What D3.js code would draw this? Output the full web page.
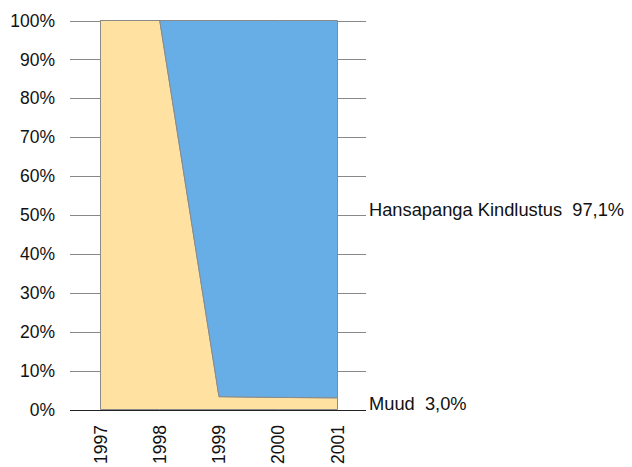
<!DOCTYPE html>
<html><head><meta charset="utf-8">
<script src="https://cdn.jsdelivr.net/npm/d3@7"></script>
<style>body{margin:0;background:#fff}svg{display:block}text{font-family:"Liberation Sans",Arial,sans-serif;fill:#111;white-space:pre}</style>
</head><body><svg id="c" width="632" height="467"></svg>
<script>
const years = ["1997","1998","1999","2000","2001"];
const muud = [100, 100, 3.3, 3.1, 3.0];
const hansapanga = [0, 0, 96.7, 96.9, 97.1];
const seriesNames = ["Muud", "Hansapanga Kindlustus"];
const seriesLabels = ["Muud  3,0%", "Hansapanga Kindlustus  97,1%"];
const seriesColors = ["#FFE1A1", "#67AEE6"];
const yTicks = [0,10,20,30,40,50,60,70,80,90,100];

const svg = d3.select("#c");
const x = d3.scalePoint().domain(years).range([100.5, 337.5]);
const y = d3.scaleLinear().domain([0,100]).range([409.5, 20.5]);

const rows = years.map((yr,i)=>({year:yr, Muud:muud[i], "Hansapanga Kindlustus":hansapanga[i]}));
const total = rows.map(r=>r.Muud + r["Hansapanga Kindlustus"]);
const norm = rows.map((r,i)=>({year:r.year, Muud:r.Muud/total[i]*100, "Hansapanga Kindlustus":r["Hansapanga Kindlustus"]/total[i]*100}));
const stack = d3.stack().keys(seriesNames)(norm);

svg.append("g").selectAll("line").data(yTicks).join("line")
  .attr("x1",70).attr("x2",366)
  .attr("y1",d=>Math.round(y(d))+0.5).attr("y2",d=>Math.round(y(d))+0.5)
  .attr("stroke",d=>d===0?"#222":"#888").attr("stroke-width",1);

const area = d3.area().x(d=>x(d.data.year)).y0(d=>y(d[0])).y1(d=>y(d[1]));
svg.append("g").selectAll("path").data(stack).join("path")
  .attr("d",area).attr("fill",(d,i)=>seriesColors[i])
  .attr("stroke","#8a8a8a").attr("stroke-width",1);

svg.append("line").attr("x1",70).attr("x2",366).attr("y1",Math.round(y(0))+0.5).attr("y2",Math.round(y(0))+0.5).attr("stroke","#222");

svg.append("g").selectAll("text").data(yTicks).join("text")
  .attr("x",55).attr("y",d=>y(d)).attr("dy","0.35em").attr("text-anchor","end")
  .attr("font-size",17.5).text(d=>d+"%");

svg.append("g").selectAll("text").data(years).join("text")
  .attr("transform",d=>`translate(${x(d)},425) rotate(-90)`)
  .attr("text-anchor","end").attr("dy","0.35em").attr("font-size",17.5).text(d=>d);

const last = stack.map(s=>s[s.length-1]);
svg.append("g").selectAll("text").data(last).join("text")
  .attr("x",369).attr("y",(d)=>y((d[0]+d[1])/2)).attr("dy","0.35em")
  .attr("font-size",18.3).text((d,i)=>seriesLabels[i]);
</script></body></html>
